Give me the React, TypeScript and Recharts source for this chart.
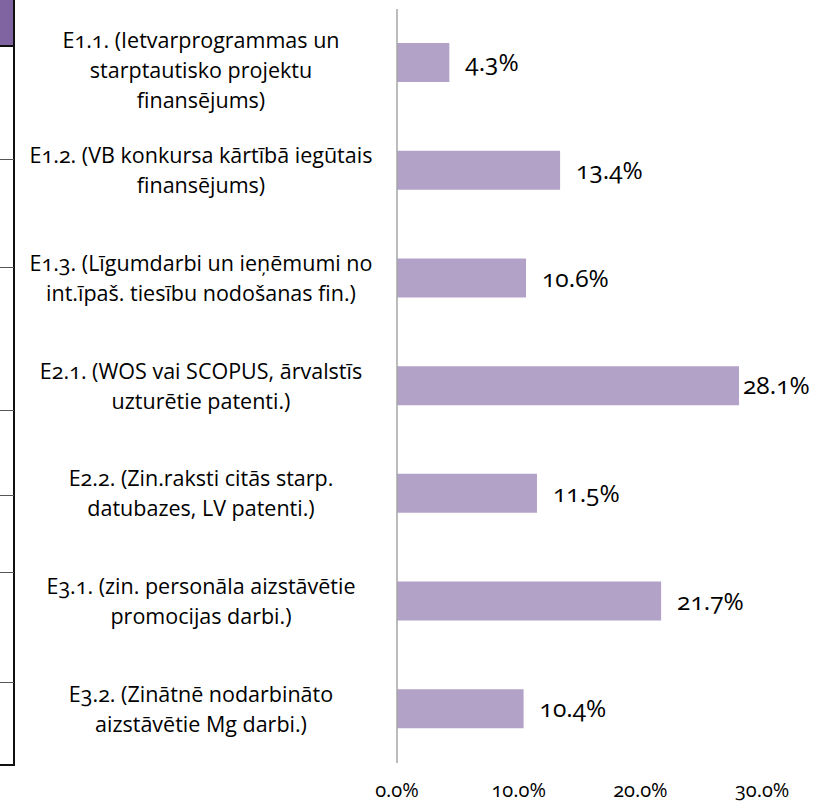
import { BarChart, Bar, XAxis, YAxis, LabelList } from "recharts";

const CATEGORIES = [
  "E1.1. (Ietvarprogrammas un\nstarptautisko projektu\nfinansējums)",
  "E1.2. (VB konkursa kārtībā iegūtais\nfinansējums)",
  "E1.3. (Līgumdarbi un ieņēmumi no\nint.īpaš. tiesību nodošanas fin.)",
  "E2.1. (WOS vai SCOPUS, ārvalstīs\nuzturētie patenti.)",
  "E2.2. (Zin.raksti citās starp.\ndatubazes, LV patenti.)",
  "E3.1. (zin. personāla aizstāvētie\npromocijas darbi.)",
  "E3.2. (Zinātnē nodarbināto\naizstāvētie Mg darbi.)",
];
const SHARES = [4.3, 13.4, 10.6, 28.1, 11.5, 21.7, 10.4];
const X_TICKS = [0, 10, 20, 30];

const DATA = CATEGORIES.map((name, i) => ({ name, share: SHARES[i] }));

const FONT = "'Open Sans', sans-serif";
const NUMS = { fontVariantNumeric: "oldstyle-nums" as const };

function CategoryTick(props: any) {
  const { x, y, payload } = props;
  const lines = String(payload.value).split("\n");
  const lh = 30;
  // keep the first line clear of the top edge
  const start = Math.max(y - ((lines.length - 1) * lh) / 2, 40);
  return (
    <text x={x - 194} textAnchor="middle" fontSize={21.5} fill="#000" fontFamily={FONT} style={NUMS}>
      {lines.map((l, i) => (
        <tspan key={i} x={x - 194} y={start + i * lh} dy="0.35em">
          {l}
        </tspan>
      ))}
    </text>
  );
}

function PercentTick(props: any) {
  const { x, y, payload } = props;
  return (
    <text x={x} y={y + 32} textAnchor="middle" fontSize={20} fill="#000" fontFamily={FONT} style={NUMS}>
      {`${payload.value.toFixed(1)}%`}
    </text>
  );
}

function ValueLabel(props: any) {
  const { x, y, width, height, value } = props;
  const lx = Math.min(x + width + 16, 743);
  return (
    <text x={lx} y={y + height / 2} dy="0.35em" fontSize={24.5} fill="#000" fontFamily={FONT} style={NUMS}>
      {`${value.toFixed(1)}%`}
    </text>
  );
}

// bits of a neighbouring table that got cropped into the picture
const EDGE_TICKS = [159, 267, 410, 495, 572, 682];

export default function App() {
  return (
    <div style={{ position: "absolute", left: 0, top: 0, width: 828, height: 804, background: "#fff" }}>
      <div style={{ position: "absolute", left: 0, top: 0, width: 13, height: 45, background: "#8064a2" }} />
      <div style={{ position: "absolute", left: 0, top: 45, width: 15, height: 2, background: "#111" }} />
      <div style={{ position: "absolute", left: 13, top: 0, width: 2, height: 766, background: "#111" }} />
      <div style={{ position: "absolute", left: 0, top: 764, width: 15, height: 2, background: "#111" }} />
      {EDGE_TICKS.map((t) => (
        <div key={t} style={{ position: "absolute", left: 0, top: t, width: 14, height: 1, background: "#555" }} />
      ))}
      <BarChart
        width={828}
        height={804}
        data={DATA}
        layout="vertical"
        margin={{ top: 9, right: 5, left: 0, bottom: 0 }}
        style={{ position: "absolute", left: 0, top: 0 }}
      >
        <XAxis
          type="number"
          domain={[0, 35]}
          ticks={X_TICKS}
          axisLine={false}
          tickLine={false}
          tickSize={0}
          height={41}
          tick={<PercentTick />}
        />
        <YAxis
          type="category"
          dataKey="name"
          width={397}
          axisLine={{ stroke: "#a6a6a6", strokeWidth: 1.5 }}
          tickLine={false}
          tickSize={0}
          tick={<CategoryTick />}
        />
        <Bar dataKey="share" fill="#b3a2c7" barSize={39} isAnimationActive={false}>
          <LabelList dataKey="share" content={<ValueLabel />} />
        </Bar>
      </BarChart>
    </div>
  );
}
